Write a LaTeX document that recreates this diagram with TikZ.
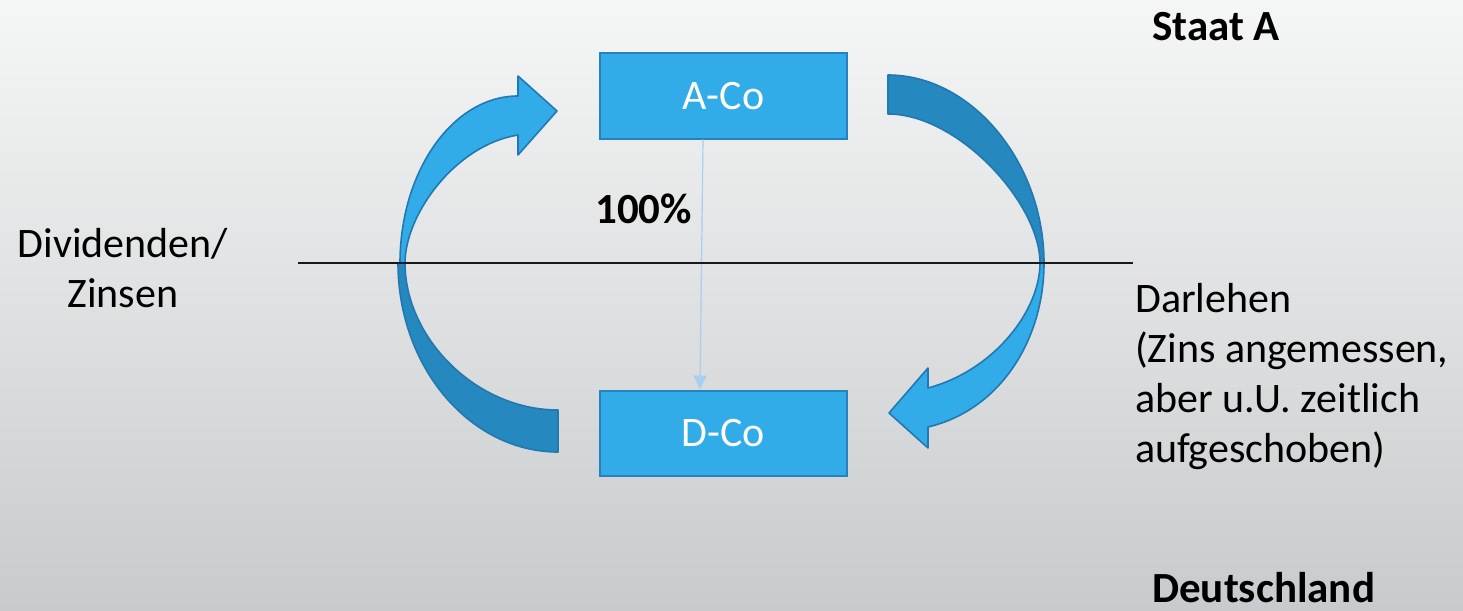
\documentclass[tikz,border=0pt]{standalone}
\usepackage{fontspec}
\setmainfont{Carlito}
\usetikzlibrary{arrows.meta}

\definecolor{boxblue}{RGB}{50,171,233}
\definecolor{boxedge}{RGB}{40,128,188}
\definecolor{backblue}{RGB}{37,136,190}
\definecolor{rimblue}{RGB}{34,120,176}
\definecolor{linkblue}{RGB}{168,206,240}
\definecolor{bgtop}{RGB}{245,246,246}
\definecolor{bgbottom}{RGB}{200,203,205}

\begin{document}
\begin{tikzpicture}[x=1pt,y=-1pt,
  company/.style={draw=boxedge, line width=2pt, fill=boxblue,
    minimum width=247pt, minimum height=85pt, inner sep=0pt,
    text=white, font=\fontsize{42}{50}\selectfont},
  plaintext/.style={inner sep=0pt, font=\fontsize{42}{50}\selectfont},
  heading/.style={inner sep=0pt, font=\fontsize{43}{50}\selectfont\bfseries},
  frontband/.style={fill=boxblue, draw=rimblue, line width=1.6pt, line join=round},
  backband/.style={fill=backblue, draw=rimblue, line width=1.6pt, line join=round},
  link/.style={draw=linkblue, line width=1.2pt, -{Triangle[width=13pt,length=14pt]}},
]
% page and background
\useasboundingbox (0,0) rectangle (1463,610);
\shade[top color=bgtop, bottom color=bgbottom] (0,0) rectangle (1463,610);

% left curved arrow: Dividenden / Zinsen flowing up to A-Co
\path[backband] (398,263) .. controls (398,367) and (470,452) .. (558,452)
  -- (558,410) .. controls (476,410) and (405,338) .. (405,263) -- cycle;
\path[frontband] (400,263) .. controls (400,171) and (453,96) .. (518,96)
  -- (518,76) -- (557,111) -- (518,155) -- (518,135)
  .. controls (455,145) and (405,215) .. (405,263) -- cycle;

% right curved arrow: Darlehen flowing down to D-Co
\path[backband] (888,75) .. controls (972,75) and (1044,163) .. (1044,263)
  -- (1040,263) .. controls (1040,203) and (958,114) .. (888,114) -- cycle;
\path[frontband] (1044,263) .. controls (1044,340) and (1000,410) .. (928,427)
  -- (928,448) -- (889,413) -- (928,368) -- (928,388)
  .. controls (995,370) and (1040,310) .. (1040,263) -- cycle;

% companies
\node[company] (aco) at (723.5,96) {A-Co};
\node[company] (dco) at (723.5,433) {D-Co};

% shareholding
\draw[link] ([xshift=-20.5pt]aco.south) -- ([xshift=-23.5pt]dco.north);
\node[heading, anchor=base west] (share) at (595,223) {100\%};

% border between the two states
\coordinate (borderW) at (298,263);
\coordinate (borderE) at (1133,263);
\draw[line width=1.8pt, black!90] (borderW) -- (borderE);

% labels (base anchor sits on the last line)
\node[plaintext, align=center, anchor=base] (divs) at (123,307) {Dividenden/\\Zinsen};
\node[plaintext, align=left, anchor=base west] (loan) at (1135,462)
  {Darlehen\\(Zins angemessen,\\aber u.U. zeitlich\\aufgeschoben)};
\node[heading, anchor=base west] (stateA) at (1152,41) {Staat A};
\node[heading, anchor=base west] (stateD) at (1152,602) {Deutschland};
\end{tikzpicture}
\end{document}
